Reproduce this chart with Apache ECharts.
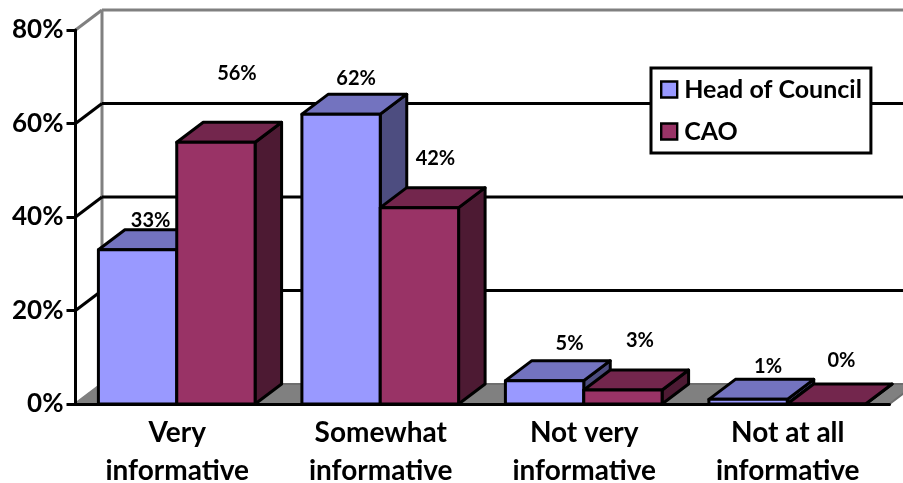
<!DOCTYPE html>
<html>
<head>
<meta charset="utf-8">
<style>html,body{margin:0;padding:0;background:#fff}#chart{width:903px;height:483px}</style>
<script src="https://cdn.jsdelivr.net/npm/echarts@6/dist/echarts.min.js"></script>
</head>
<body>
<div id="chart"></div>
<script>
const categories = ['Very\ninformative', 'Somewhat\ninformative', 'Not very\ninformative', 'Not at all\ninformative'];
const headOfCouncil = [33, 62, 5, 1];
const cao = [56, 42, 3, 0];
const yTicks = [0, 20, 40, 60, 80];

// Hand-placed data label offsets (px) from each bar's front top centre.
const headLabelNudge = [[13, -29], [15, -36], [25, -37], [20, -33]];
const caoLabelNudge = [[21, -69], [16, -49], [17, -49], [15, -43]];

// Oblique projection of the 3D box: how far the back plane sits from the front.
const DEPTH_X = 26.5;
const DEPTH_Y = -20;
const STROKE = 3;
const FONT = 'Lato, "Open Sans", sans-serif';

function shadedBar(faces, nudges, leadsGroup) {
  return function (params, api) {
    const [cx, baseY] = api.coord([api.value(0), 0]);
    const topY = api.coord([api.value(0), api.value(1)])[1];
    const w = api.size([1, 0])[0] * 0.385;
    const left = cx - 0.5 + (leadsGroup ? -w : 0);
    const right = left + w;
    const edge = { stroke: '#000', lineWidth: STROKE, lineJoin: 'round' };
    const nudge = nudges[params.dataIndex];
    return {
      type: 'group',
      children: [
        { type: 'polygon', z2: 1,
          shape: { points: [[right, baseY], [right + DEPTH_X, baseY + DEPTH_Y], [right + DEPTH_X, topY + DEPTH_Y], [right, topY]] },
          style: Object.assign({ fill: faces.side }, edge) },
        { type: 'polygon', z2: 2,
          shape: { points: [[left, topY], [left + DEPTH_X, topY + DEPTH_Y], [right + DEPTH_X, topY + DEPTH_Y], [right, topY]] },
          style: Object.assign({ fill: faces.top }, edge) },
        { type: 'rect', z2: 3,
          shape: { x: left, y: topY, width: w, height: baseY - topY },
          style: Object.assign({ fill: faces.front }, edge) },
        { type: 'text', z2: 10,
          x: (left + right) / 2 + nudge[0], y: topY + nudge[1],
          style: { text: api.value(1) + '%', fill: '#000', font: 'bold 20px ' + FONT, align: 'center', verticalAlign: 'middle' } }
      ]
    };
  };
}

// Back wall, side wall and floor, one gridline per tick.
function renderWalls(params, api) {
  const v = api.value(1);
  const [cx, y] = api.coord([0, v]);
  const band = api.size([1, 0])[0];
  const xL = cx - band / 2;
  const xR = xL + band * categories.length;
  const outer = v === 0 || v === 80;
  const colour = outer ? '#808080' : '#000';
  const children = [];
  if (v === 0) {
    children.push({ type: 'polygon', z2: 0,
      shape: { points: [[xL, y], [xL + DEPTH_X, y + DEPTH_Y], [xR + DEPTH_X, y + DEPTH_Y], [xR, y]] },
      style: { fill: '#808080', stroke: '#6e6e6e', lineWidth: 2 } });
  }
  if (v === 80) {
    const floorY = api.coord([0, 0])[1];
    children.push({ type: 'line', z2: 1,
      shape: { x1: xL + DEPTH_X, y1: y + DEPTH_Y, x2: xL + DEPTH_X, y2: floorY + DEPTH_Y },
      style: { stroke: '#808080', lineWidth: STROKE } });
  }
  if (v !== 0) {
    children.push({ type: 'line', z2: 2,
      shape: { x1: xL + DEPTH_X, y1: y + DEPTH_Y, x2: xR + DEPTH_X, y2: y + DEPTH_Y },
      style: { stroke: colour, lineWidth: STROKE } });
  }
  children.push({ type: 'line', z2: 2,
    shape: { x1: xL, y1: y, x2: xL + DEPTH_X, y2: y + DEPTH_Y },
    style: { stroke: colour, lineWidth: STROKE } });
  return { type: 'group', children };
}

const chart = echarts.init(document.getElementById('chart'), null, { renderer: 'canvas' });
chart.setOption({
  animation: false,
  backgroundColor: '#fff',
  grid: { left: 75.5, right: 13.5, top: 30, bottom: 79, outerBoundsMode: 'none' },
  legend: {
    left: 651, top: 68, orient: 'vertical',
    data: [{ name: 'Head of Council', icon: 'rect' }, { name: 'CAO', icon: 'rect' }],
    itemWidth: 16, itemHeight: 16, itemGap: 17,
    padding: [9, 9, 9, 9],
    backgroundColor: '#fff', borderColor: '#000', borderWidth: STROKE,
    itemStyle: { borderColor: '#000', borderWidth: 2.4 },
    textStyle: { color: '#000', fontFamily: FONT, fontWeight: 'bold', fontSize: 25, padding: [3, 7, 0, 2] }
  },
  xAxis: {
    type: 'category', data: categories, z: 1,
    axisTick: { show: false },
    axisLine: { show: true, lineStyle: { color: '#000', width: 3 } },
    axisLabel: { color: '#000', fontFamily: FONT, fontWeight: 'bold', fontSize: 28, lineHeight: 38, margin: 10, interval: 0 }
  },
  yAxis: {
    type: 'value', min: 0, max: 80, interval: 20, z: 1,
    splitLine: { show: false },
    axisLine: { show: true, lineStyle: { color: '#000', width: STROKE } },
    axisTick: { show: true, length: 9, lineStyle: { color: '#000', width: STROKE } },
    axisLabel: { formatter: '{value}%', color: '#000', fontFamily: FONT, fontWeight: 'bold', fontSize: 26, margin: 12, padding: [2, 0, 0, 0] }
  },
  series: [
    { type: 'custom', name: 'Head of Council', coordinateSystem: 'cartesian2d', clip: false, z: 3,
      itemStyle: { color: '#9999FF' },
      data: headOfCouncil.map((v, i) => [i, v]),
      renderItem: shadedBar({ front: '#9999FF', top: '#7373BF', side: '#4D4D80' }, headLabelNudge, true) },
    { type: 'custom', name: 'CAO', coordinateSystem: 'cartesian2d', clip: false, z: 4,
      itemStyle: { color: '#993366' },
      data: cao.map((v, i) => [i, v]),
      renderItem: shadedBar({ front: '#993366', top: '#73264D', side: '#4D1A33' }, caoLabelNudge, false) },
    { type: 'custom', name: 'walls', coordinateSystem: 'cartesian2d', clip: false, z: 0, silent: true,
      data: yTicks.map(v => [0, v]),
      renderItem: renderWalls }
  ]
});
</script>
</body>
</html>
